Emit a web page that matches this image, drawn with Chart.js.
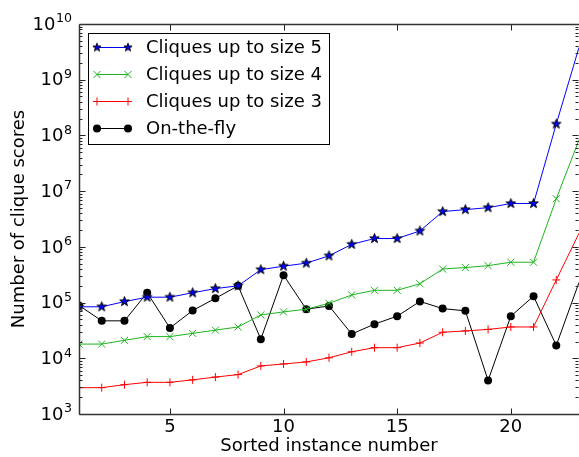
<!DOCTYPE html>
<html>
<head>
<meta charset="utf-8">
<script src="https://cdn.jsdelivr.net/npm/chart.js@4/dist/chart.umd.min.js"></script>
<style>
  html, body { margin: 0; padding: 0; background: #fff; overflow: hidden; }
  #wrap { width: 579px; height: 457px; }
</style>
</head>
<body>
<div id="wrap"><canvas id="chart" width="579" height="457"></canvas></div>
<script>
// Data
const instances = [1, 2, 3, 4, 5, 6, 7, 8, 9, 10, 11, 12, 13, 14, 15, 16, 17, 18, 19, 20, 21, 22, 23];
const size5 = [8.4e4, 8.4e4, 1.04e5, 1.25e5, 1.25e5, 1.5e5, 1.78e5, 2.0e5, 3.9e5, 4.5e5, 5.1e5, 6.9e5,
               1.11e6, 1.41e6, 1.41e6, 1.93e6, 4.3e6, 4.66e6, 5.06e6, 6.0e6, 6.0e6, 1.6e8, 3.8e9];
const size4 = [1.8e4, 1.8e4, 2.1e4, 2.45e4, 2.45e4, 2.8e4, 3.2e4, 3.65e4, 6.0e4, 6.8e4, 7.6e4, 9.7e4,
               1.37e5, 1.66e5, 1.66e5, 2.18e5, 4.0e5, 4.25e5, 4.6e5, 5.3e5, 5.3e5, 7.3e6, 8.3e7];
const size3 = [2.97e3, 2.97e3, 3.36e3, 3.7e3, 3.7e3, 4.1e3, 4.6e3, 5.1e3, 7.3e3, 7.9e3, 8.6e3, 1.02e4,
               1.31e4, 1.55e4, 1.55e4, 1.88e4, 2.93e4, 3.1e4, 3.3e4, 3.65e4, 3.65e4, 2.55e5, 1.75e6];
const onTheFly = [8.9e4, 4.7e4, 4.7e4, 1.5e5, 3.5e4, 7.2e4, 1.19e5, 2.0e5, 2.2e4, 3.1e5, 7.6e4, 8.7e4,
                  2.73e4, 4.1e4, 5.7e4, 1.05e5, 7.8e4, 7.1e4, 4.0e3, 5.7e4, 1.3e5, 1.7e4, 2.3e5];

const xTicks = [5, 10, 15, 20];
const yExponents = [3, 4, 5, 6, 7, 8, 9, 10];

const seriesNames = ['Cliques up to size 5', 'Cliques up to size 4', 'Cliques up to size 3', 'On-the-fly'];
const FONT = "'DejaVu Sans', sans-serif";
const GREEN = '#1fb41f';

// filled star marker like matplotlib '*'
function makeStar(r) {
    const c = document.createElement('canvas');
    const s = Math.ceil(r * 2 + 3);
    c.width = s; c.height = s;
    const g = c.getContext('2d');
    const cx = s / 2, cy = s / 2;
    g.beginPath();
    for (let i = 0; i < 10; i++) {
        const rad = i % 2 === 0 ? r : r * 0.4;
        const a = -Math.PI / 2 + i * Math.PI / 5;
        const px = cx + rad * Math.cos(a), py = cy + rad * Math.sin(a);
        if (i === 0) g.moveTo(px, py); else g.lineTo(px, py);
    }
    g.closePath();
    g.fillStyle = '#0000ff';
    g.fill();
    g.lineWidth = 1;
    g.strokeStyle = '#000';
    g.stroke();
    return c;
}
const starImg = makeStar(5);
const starSmall = makeStar(4.3);

const toPoints = arr => arr.map((v, i) => ({ x: instances[i], y: v }));
// the last instance sits on the clipped right edge, no marker shown
const radii = r => instances.map((x, i) => (i === instances.length - 1 ? 0 : r));

const axesPlugin = {
    id: 'mplAxes',
    afterDraw(chart) {
        const ctx = chart.ctx;
        const a = chart.chartArea;
        const xs = chart.scales.x, ys = chart.scales.y;
        const L = Math.round(a.left) + 0.5, R = Math.round(a.right) - 0.5;
        const T = Math.round(a.top) + 0.5, B = Math.round(a.bottom) + 0.5;
        ctx.save();
        ctx.strokeStyle = '#222';
        ctx.lineWidth = 1;

        // ticks
        ctx.beginPath();
        xTicks.forEach(t => {
            const px = Math.round(xs.getPixelForValue(t)) + 0.5;
            ctx.moveTo(px, B); ctx.lineTo(px, B - 6);
            ctx.moveTo(px, T); ctx.lineTo(px, T + 6);
        });
        yExponents.forEach(e => {
            const py = Math.round(ys.getPixelForValue(Math.pow(10, e))) + 0.5;
            ctx.moveTo(L, py); ctx.lineTo(L + 6, py);
            ctx.moveTo(R, py); ctx.lineTo(R - 6, py);
            if (e < 10) {
                for (let m = 2; m <= 9; m++) {
                    const my = Math.round(ys.getPixelForValue(m * Math.pow(10, e))) + 0.5;
                    ctx.moveTo(L, my); ctx.lineTo(L + 3, my);
                    ctx.moveTo(R, my); ctx.lineTo(R - 3, my);
                }
            }
        });
        ctx.stroke();

        // spines
        ctx.lineWidth = 1.5;
        ctx.strokeStyle = '#333';
        ctx.beginPath();
        ctx.moveTo(L, T); ctx.lineTo(R + 1, T);
        ctx.moveTo(L, T); ctx.lineTo(L, B);
        ctx.moveTo(L, B); ctx.lineTo(R + 1, B);
        ctx.stroke();

        // y tick labels 10^n
        ctx.fillStyle = '#000';
        ctx.textBaseline = 'middle';
        yExponents.forEach(e => {
            const py = ys.getPixelForValue(Math.pow(10, e));
            const sup = String(e);
            ctx.font = '12.6px ' + FONT;
            const supW = ctx.measureText(sup).width;
            ctx.textAlign = 'left';
            const supX = 72 - supW;
            ctx.fillText(sup, supX, py - 5);
            ctx.font = '18px ' + FONT;
            ctx.textAlign = 'right';
            ctx.fillText('10', supX - 0.5, py + 1);
        });

        // legend
        const bx = 88.5, by = 33.5, bw = 241, bh = 111;
        ctx.fillStyle = '#fff';
        ctx.fillRect(bx, by, bw, bh);
        ctx.lineWidth = 1;
        ctx.strokeStyle = '#000';
        ctx.strokeRect(bx, by, bw, bh);
        const rows = [47.5, 74.5, 101.5, 128.5];
        chart.data.datasets.forEach((ds, i) => {
            const y = rows[i];
            const x0 = 97, x1 = 128;
            ctx.strokeStyle = ds.borderColor;
            ctx.lineWidth = 1;
            ctx.beginPath(); ctx.moveTo(x0, y); ctx.lineTo(x1, y); ctx.stroke();
            [x0, x1].forEach(px => {
                if (ds.pointStyle === starImg) {
                    ctx.drawImage(starSmall, px - starSmall.width / 2, y - starSmall.height / 2);
                } else if (ds.pointStyle === 'circle') {
                    ctx.fillStyle = ds.pointBackgroundColor;
                    ctx.beginPath();
                    ctx.arc(px, y, ds.legendRadius, 0, Math.PI * 2);
                    ctx.fill();
                } else {
                    ctx.strokeStyle = ds.pointBorderColor;
                    ctx.lineWidth = 1;
                    Chart.helpers.drawPoint(ctx, {
                        pointStyle: ds.pointStyle, radius: ds.legendRadius, borderWidth: 1, rotation: 0
                    }, px, y);
                }
            });
            ctx.fillStyle = '#000';
            ctx.font = '18px ' + FONT;
            ctx.textAlign = 'left';
            ctx.textBaseline = 'middle';
            ctx.fillText(seriesNames[i], 146, y + 1);
        });
        ctx.restore();
    }
};

new Chart(document.getElementById('chart'), {
    type: 'line',
    data: {
        datasets: [
            {
                label: seriesNames[0], data: toPoints(size5),
                borderColor: '#0000ff', borderWidth: 1,
                pointStyle: starImg, pointRadius: radii(5), legendRadius: 5
            },
            {
                label: seriesNames[1], data: toPoints(size4),
                borderColor: GREEN, borderWidth: 1,
                pointStyle: 'crossRot', pointRadius: radii(5), pointBorderColor: GREEN,
                pointBorderWidth: 1, legendRadius: 5
            },
            {
                label: seriesNames[2], data: toPoints(size3),
                borderColor: '#ff0000', borderWidth: 1,
                pointStyle: 'cross', pointRadius: radii(4), pointBorderColor: '#ff0000',
                pointBorderWidth: 1, legendRadius: 4
            },
            {
                label: seriesNames[3], data: toPoints(onTheFly),
                borderColor: '#000', borderWidth: 1,
                pointStyle: 'circle', pointRadius: radii(4), pointBorderColor: '#000',
                pointBackgroundColor: '#000', pointBorderWidth: 0, legendRadius: 4
            }
        ]
    },
    options: {
        responsive: false,
        animation: false,
        events: [],
        layout: { padding: { left: 0, right: 0, top: 24, bottom: 0 }, autoPadding: false },
        plugins: { legend: { display: false }, tooltip: { enabled: false } },
        scales: {
            x: {
                type: 'linear', min: 1, max: 23,
                grid: { display: false }, border: { display: false },
                afterBuildTicks: s => { s.ticks = xTicks.map(v => ({ value: v })); },
                afterFit: s => { s.height = 43; s.paddingLeft = 0; s.paddingRight = 0; },
                ticks: { color: '#000', font: { family: FONT, size: 18 }, padding: -5, maxRotation: 0 },
                title: {
                    display: true, text: 'Sorted instance number', color: '#000',
                    font: { family: FONT, size: 18 }, padding: 0
                }
            },
            y: {
                type: 'logarithmic', min: 1e3, max: 1e10,
                grid: { display: false }, border: { display: false },
                afterBuildTicks: s => { s.ticks = yExponents.map(e => ({ value: Math.pow(10, e) })); },
                afterFit: s => { s.width = 79; s.paddingTop = 0; s.paddingBottom = 0; },
                ticks: { callback: () => '' },
                title: {
                    display: true, text: 'Number of clique scores', color: '#000',
                    font: { family: FONT, size: 18 }, padding: { top: 9, bottom: 0 }
                }
            }
        }
    },
    plugins: [axesPlugin]
});
</script>
</body>
</html>
